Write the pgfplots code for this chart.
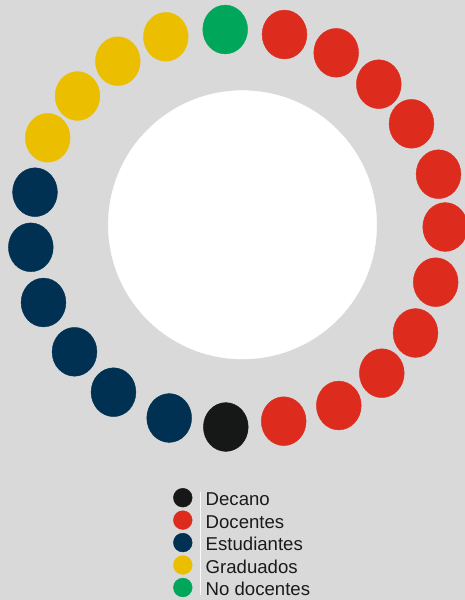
\documentclass[border=0pt]{standalone}
\usepackage{pgfplots}
\pgfplotsset{compat=1.18}
\usepackage{fontspec}
\setmainfont{Liberation Sans}
\definecolor{bg}{HTML}{D9D9D9}
\definecolor{cDecano}{HTML}{161817}
\definecolor{cDocentes}{HTML}{DD2C1E}
\definecolor{cEstud}{HTML}{003152}
\definecolor{cGrad}{HTML}{EBBF00}
\definecolor{cNoDoc}{HTML}{00A65A}
\definecolor{txt}{HTML}{1A1A1A}
\begin{document}
\begin{tikzpicture}
\useasboundingbox (0,0) rectangle (465bp,600bp);
\fill[bg] (0,0) rectangle (465bp,600bp);
\begin{axis}[
  scale only axis, width=465bp, height=600bp,
  xmin=0, xmax=465, ymin=0, ymax=600, y dir=reverse,
  hide axis, clip=false,
  seat/.style={only marks, mark=*, mark size=24.4bp, color=#1,
    mark options={solid, draw=#1, fill=#1, xscale=0.918}},
  key/.style={only marks, mark=*, mark size=9.4bp, color=#1,
    mark options={solid, draw=#1, fill=#1}, forget plot},
]
% hole in the middle
\addplot[only marks, mark=*, mark size=134.2bp, color=white,
  mark options={draw=white, fill=white}, forget plot]
  coordinates {(242.5,224.8)};

% seats, clockwise from the top
\addplot[seat=cNoDoc] coordinates {(225.2,29.5)};
\addplot[seat=cDocentes] coordinates {
(284.5,34.5) (336.2,52.8) (378.8,84.2) (411.5,123.8) (438.5,174.2) (445.2,227)
(435.7,282.2) (415.5,333) (381.8,373.2) (338.8,405.5) (283.7,421.2)};
\addplot[seat=cDecano] coordinates {(225.8,427)};
\addplot[seat=cEstud] coordinates {
(169.2,418) (113.5,392.2) (74.5,351.8) (43.5,302.5) (30.8,247.3) (35,192.2)};
\addplot[seat=cGrad] coordinates {
(47.7,137.8) (77.5,96) (117.8,61.2) (165.8,36.8)};

% key
\addplot[key=cDecano] coordinates {(182.8,497.7)};
\addplot[key=cDocentes] coordinates {(182.8,520.1)};
\addplot[key=cEstud] coordinates {(182.8,542.6)};
\addplot[key=cGrad] coordinates {(182.8,565.0)};
\addplot[key=cNoDoc] coordinates {(182.8,587.5)};
\draw[white!90!bg, line width=1bp] (axis cs:200,491.7) -- (axis cs:200,595);
\begin{scope}[every node/.style={anchor=base west, inner sep=0pt, text=txt,
    font=\fontsize{18.6bp}{22bp}\selectfont}]
\node at (axis cs:205.5,505.7) {Decano};
\node at (axis cs:205.5,528.1) {Docentes};
\node at (axis cs:205.5,550.6) {Estudiantes};
\node at (axis cs:205.5,573.0) {Graduados};
\node at (axis cs:205.5,595.5) {No docentes};
\end{scope}
\end{axis}
\end{tikzpicture}
\end{document}
